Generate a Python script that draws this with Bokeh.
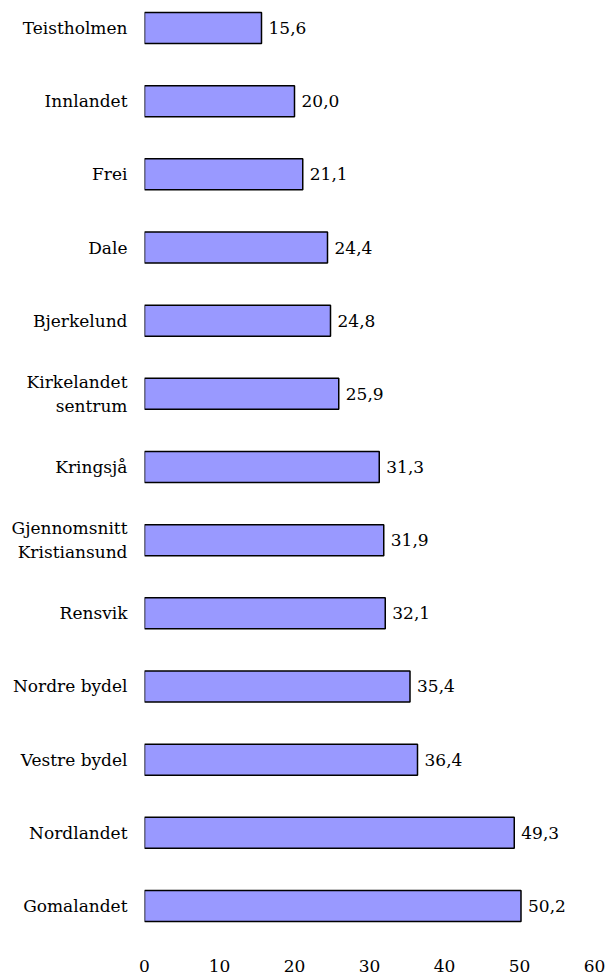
from bokeh.plotting import figure
from bokeh.models import Range1d, FixedTicker, ColumnDataSource
from bokeh.core.properties import value
from bokeh.embed import file_html
from bokeh.resources import INLINE

categories = ["Teistholmen", "Innlandet", "Frei", "Dale", "Bjerkelund",
              "Kirkelandet\nsentrum", "Kringsjå", "Gjennomsnitt\nKristiansund",
              "Rensvik", "Nordre bydel", "Vestre bydel", "Nordlandet", "Gomalandet"]
values = [15.6, 20.0, 21.1, 24.4, 24.8, 25.9, 31.3, 31.9, 32.1, 35.4, 36.4, 49.3, 50.2]
x_ticks = [0, 10, 20, 30, 40, 50, 60]

FONT = "DejaVu Serif"
FS = "17px"

pos = list(range(len(categories)))
labels = [f"{v:.1f}".replace(".", ",") for v in values]
src = ColumnDataSource(dict(y=pos, v=values, lab=labels))

p = figure(frame_width=450, frame_height=951, output_backend="svg", toolbar_location=None,
           x_range=Range1d(0, 60), y_range=Range1d(12.622, -0.376),
           min_border_left=144, min_border_right=14, min_border_top=0,
           min_border_bottom=28)
p.outline_line_color = None
p.grid.visible = False
p.background_fill_color = "white"

p.hbar(y="y", right="v", left=0, height=0.424, source=src,
       fill_color="#9999FF", line_color="black", line_width=1.5)
p.text(x="v", y="y", text="lab", source=src, x_offset=7,
       text_align="left", text_baseline="middle",
       text_font=value(FONT), text_font_size=FS, text_color="black")

p.xaxis.ticker = FixedTicker(ticks=x_ticks)
p.xaxis.axis_line_color = None
p.xaxis.major_tick_line_color = None
p.xaxis.minor_tick_line_color = None
p.xaxis.major_tick_out = 0
p.xaxis.major_tick_in = 0
p.xaxis.major_label_standoff = 8
p.xaxis.major_label_text_font = FONT
p.xaxis.major_label_text_font_size = FS
p.xaxis.major_label_text_color = "black"

p.yaxis.ticker = FixedTicker(ticks=pos)
p.yaxis.major_label_overrides = {i: c for i, c in zip(pos, categories)}
p.yaxis.axis_line_color = None
p.yaxis.major_tick_line_color = None
p.yaxis.minor_tick_line_color = None
p.yaxis.major_tick_out = 0
p.yaxis.major_tick_in = 0
p.yaxis.major_label_standoff = 17
p.yaxis.major_label_text_font = FONT
p.yaxis.major_label_text_font_size = FS
p.yaxis.major_label_text_color = "black"

open("out.html", "w").write(file_html(p, INLINE))
